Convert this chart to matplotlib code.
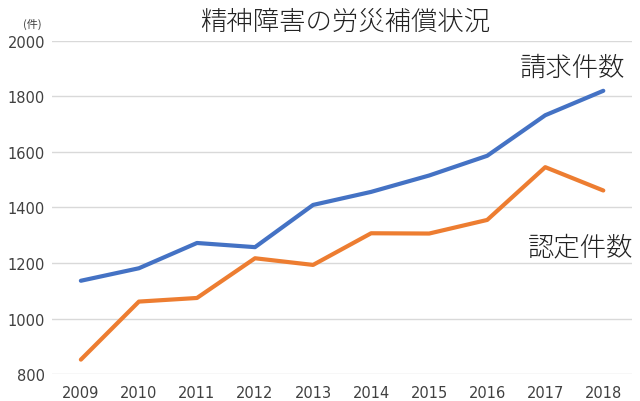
import matplotlib
matplotlib.use("Agg")
import matplotlib.pyplot as plt

plt.rcParams["font.family"] = ["Noto Sans CJK JP", "DejaVu Sans"]

years = ["2009", "2010", "2011", "2012", "2013", "2014", "2015", "2016", "2017", "2018"]
claims = [1136, 1181, 1272, 1257, 1409, 1456, 1515, 1586, 1732, 1820]
decided = [852, 1061, 1074, 1217, 1193, 1307, 1306, 1355, 1545, 1461]
yticks = [800, 1000, 1200, 1400, 1600, 1800, 2000]

fig = plt.figure(figsize=(6.4, 4.02), dpi=100)
ax = fig.add_axes([0.081, 0.067, 0.907, 0.829])

x = list(range(len(years)))
ax.plot(x, claims, color="#4472C4", lw=3, solid_capstyle="round", zorder=3)
ax.plot(x, decided, color="#ED7D31", lw=3, solid_capstyle="round", zorder=3)

ax.set_xlim(-0.5, len(years) - 0.5)
ax.set_ylim(800, 2000)
ax.set_yticks(yticks)
ax.set_xticks(x)
ax.set_xticklabels(years)
ax.grid(axis="y", color="#D9D9D9", lw=1)
ax.set_axisbelow(True)
for s in ax.spines.values():
    s.set_visible(False)
ax.tick_params(length=0, labelsize=10.5, colors="#404040", pad=5)
ax.tick_params(axis="x", pad=8)
for lab in ax.get_xticklabels() + ax.get_yticklabels():
    lab.set_family("DejaVu Sans")

fig.text(0.54, 0.945, "精神障害の労災補償状況", ha="center", va="center",
         fontsize=19, fontweight="light", color="#222222")
fig.text(0.05, 0.94, "(件)", ha="center", va="center", fontsize=8, color="#404040")
ax.text(9.38, 1906, "請求件数", ha="right", va="center", fontsize=19,
        fontweight="light", color="#222222", clip_on=False)
ax.text(9.52, 1261, "認定件数", ha="right", va="center", fontsize=19,
        fontweight="light", color="#222222", clip_on=False)

fig.savefig("out.png", dpi=100)
